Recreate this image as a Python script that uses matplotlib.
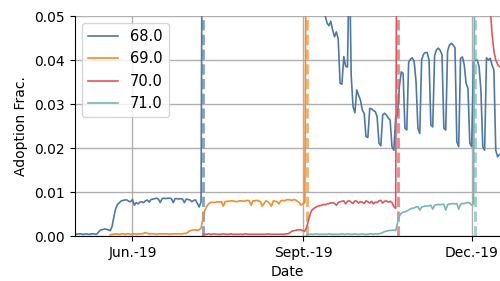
import numpy as np
import matplotlib
matplotlib.use('Agg')
import matplotlib.pyplot as plt
import pandas as pd

# daily adoption fraction, 2019-05-01 .. 2019-12-16 (values above 0.05 are off the chart)
start = '2019-05-01'
nan = np.nan

v68 = [0.0004, 0.0004, 0.0005, 0.0005, 0.0004, 0.0004, 0.0005, 0.0004, 0.0004, 0.0005,
       0.0005, 0.0004, 0.0005, 0.0011, 0.0014, 0.0015, 0.0016, 0.0015, 0.0014, 0.0012,
       0.0022, 0.0045, 0.0063, 0.0072, 0.0076, 0.0080, 0.0081, 0.0082, 0.0082, 0.0079,
       0.0078, 0.0083, 0.0070, 0.0076, 0.0073, 0.0077, 0.0078, 0.0076, 0.0080, 0.0082,
       0.0077, 0.0083, 0.0084, 0.0085, 0.0086, 0.0084, 0.0076, 0.0085, 0.0086, 0.0085,
       0.0086, 0.0086, 0.0085, 0.0076, 0.0085, 0.0085, 0.0084, 0.0085, 0.0084, 0.0076,
       0.0084, 0.0083, 0.0082, 0.0078, 0.0081, 0.0082, 0.0074, 0.0066, 0.0078,
       0.12, 0.25, 0.36, 0.45, 0.52, 0.57, 0.61, 0.64, 0.66, 0.68,
       0.70, 0.71, 0.72, 0.73, 0.74, 0.75, 0.76, 0.76, 0.77, 0.77,
       0.78, 0.78, 0.79, 0.79, 0.79, 0.80, 0.80, 0.80, 0.80, 0.81,
       0.81, 0.81, 0.81, 0.82, 0.82, 0.82, 0.82, 0.82, 0.83, 0.83,
       0.83, 0.83, 0.83, 0.83, 0.84, 0.84, 0.84, 0.84, 0.84, 0.84,
       0.84, 0.84, 0.84, 0.84, 0.84, 0.83,
       0.70, 0.50, 0.35, 0.24, 0.17, 0.13, 0.10, 0.08, 0.066, 0.056,
       0.0500, 0.0484, 0.0478, 0.0488, 0.0468, 0.0453, 0.0464, 0.0448, 0.0347, 0.0345,
       0.0408, 0.0386, 0.0384, 0.0650, 0.0365, 0.0294, 0.0280, 0.0332, 0.0320, 0.0309,
       0.0286, 0.0279, 0.0226, 0.0224, 0.0290, 0.0289, 0.0285, 0.0283, 0.0271, 0.0211,
       0.0205, 0.0275, 0.0279, 0.0275, 0.0268, 0.0264, 0.0203, 0.0195, 0.0270, 0.0275,
       0.0340, 0.0373, 0.0370, 0.0245, 0.0241, 0.0395, 0.0402, 0.0405, 0.0396, 0.0350,
       0.0245, 0.0233, 0.0400, 0.0413, 0.0417, 0.0417, 0.0400, 0.0252, 0.0248, 0.0410,
       0.0423, 0.0427, 0.0422, 0.0412, 0.0245, 0.0241, 0.0420, 0.0434, 0.0438, 0.0434,
       0.0428, 0.0214, 0.0203, 0.0404, 0.0407, 0.0389, 0.0347, 0.0336, 0.0211, 0.0203,
       0.0395, 0.0400, 0.0400, 0.0385, 0.0330, 0.0203, 0.0195, 0.0405, 0.0400, 0.0404,
       0.0389, 0.0377, 0.0195, 0.0180, 0.0185]

v69 = [nan] * 19 + [
       0.0003, 0.0004, 0.0004, 0.0005, 0.0004, 0.0004, 0.0005, 0.0005, 0.0004, 0.0005,
       0.0005, 0.0004, 0.0005, 0.0005, 0.0004, 0.0005, 0.0005, 0.0005, 0.0006, 0.0008,
       0.0006, 0.0005, 0.0005, 0.0005, 0.0005, 0.0004, 0.0005, 0.0005, 0.0005, 0.0005,
       0.0005, 0.0005, 0.0004, 0.0005, 0.0005, 0.0005, 0.0005, 0.0005, 0.0005, 0.0005,
       0.0006, 0.0006, 0.0009, 0.0012, 0.0013, 0.0014, 0.0014, 0.0013, 0.0014, 0.0018,
       0.0040, 0.0058, 0.0067, 0.0073, 0.0076, 0.0077, 0.0076, 0.0077, 0.0078, 0.0077,
       0.0078, 0.0068, 0.0078, 0.0079, 0.0079, 0.0080, 0.0080, 0.0079, 0.0078, 0.0079,
       0.0080, 0.0080, 0.0079, 0.0080, 0.0081, 0.0080, 0.0070, 0.0080, 0.0080, 0.0081,
       0.0080, 0.0078, 0.0068, 0.0074, 0.0080, 0.0078, 0.0074, 0.0068, 0.0080, 0.0079,
       0.0078, 0.0073, 0.0080, 0.0081, 0.0080, 0.0082, 0.0083, 0.0082, 0.0081, 0.0083,
       0.0082, 0.0079, 0.0076, 0.0070, 0.0074, 0.0076,
       0.10, 0.25, 0.38, 0.48, 0.55, 0.60, 0.64, 0.67, 0.70, 0.72,
       0.74, 0.75, 0.76, 0.77, 0.78, 0.78, 0.79, 0.79, 0.80, 0.80,
       0.80, 0.81, 0.81, 0.81, 0.81, 0.82, 0.82, 0.82, 0.82, 0.82,
       0.82, 0.83, 0.83, 0.83, 0.83, 0.83, 0.83, 0.83, 0.83, 0.83,
       0.83, 0.83, 0.83, 0.83, 0.83, 0.83, 0.83, 0.83, 0.82,
       0.70, 0.52, 0.38, 0.28, 0.22, 0.18, 0.15, 0.13, 0.12, 0.11,
       0.10, 0.10, 0.095, 0.09, 0.09, 0.085, 0.085, 0.08, 0.08, 0.08,
       0.078, 0.077, 0.076, 0.075, 0.074, 0.073, 0.072, 0.072, 0.071, 0.070,
       0.070, 0.069, 0.069, 0.068, 0.068, 0.067, 0.067, 0.066, 0.066, 0.066,
       0.065, 0.065, 0.064, 0.064, 0.063, 0.063, 0.062, 0.062, 0.062, 0.061,
       0.061, 0.061, 0.060, 0.060, 0.060, 0.059]

v70 = [nan] * 69 + [
       0.0003, 0.0004, 0.0004, 0.0005, 0.0004, 0.0004, 0.0005, 0.0004, 0.0004, 0.0004,
       0.0004, 0.0005, 0.0004, 0.0004, 0.0004, 0.0005, 0.0004, 0.0004, 0.0004, 0.0004,
       0.0004, 0.0004, 0.0004, 0.0005, 0.0004, 0.0004, 0.0004, 0.0004, 0.0004, 0.0004,
       0.0004, 0.0004, 0.0004, 0.0004, 0.0004, 0.0005, 0.0004, 0.0004, 0.0004, 0.0004,
       0.0004, 0.0004, 0.0004, 0.0004, 0.0004, 0.0005, 0.0005, 0.0008, 0.0011, 0.0012,
       0.0013, 0.0014, 0.0014, 0.0014, 0.0012, 0.0011,
       0.0020, 0.0036, 0.0052, 0.0060, 0.0063, 0.0066, 0.0068, 0.0069, 0.0070, 0.0072,
       0.0071, 0.0073, 0.0074, 0.0075, 0.0076, 0.0074, 0.0070, 0.0076, 0.0078, 0.0079,
       0.0080, 0.0073, 0.0079, 0.0080, 0.0077, 0.0074, 0.0080, 0.0079, 0.0075, 0.0078,
       0.0077, 0.0074, 0.0080, 0.0078, 0.0075, 0.0079, 0.0073, 0.0077, 0.0076, 0.0080,
       0.0081, 0.0075, 0.0079, 0.0080, 0.0077, 0.0079, 0.0076, 0.0067, 0.0063,
       0.12, 0.28, 0.40, 0.48, 0.54, 0.58, 0.62, 0.65, 0.67, 0.69,
       0.71, 0.72, 0.73, 0.74, 0.75, 0.76, 0.76, 0.77, 0.77, 0.78,
       0.78, 0.78, 0.79, 0.79, 0.79, 0.80, 0.80, 0.80, 0.80, 0.80,
       0.81, 0.81, 0.81, 0.81, 0.81, 0.81, 0.81, 0.81, 0.81, 0.81,
       0.81, 0.80, 0.70, 0.52, 0.36, 0.25, 0.17, 0.11, 0.08, 0.062,
       0.052, 0.046, 0.042, 0.040, 0.039, 0.0385]

v71 = [nan] * 125 + [
       0.0003, 0.0004, 0.0004, 0.0004, 0.0004, 0.0005, 0.0004, 0.0004, 0.0004, 0.0004,
       0.0004, 0.0004, 0.0005, 0.0004, 0.0004, 0.0004, 0.0004, 0.0004, 0.0004, 0.0005,
       0.0004, 0.0004, 0.0005, 0.0004, 0.0004, 0.0004, 0.0005, 0.0004, 0.0004, 0.0004,
       0.0005, 0.0004, 0.0004, 0.0004, 0.0005, 0.0005, 0.0004, 0.0005, 0.0005, 0.0005,
       0.0006, 0.0008, 0.0010, 0.0011, 0.0012, 0.0013, 0.0013, 0.0014, 0.0012,
       0.0030, 0.0045, 0.0052, 0.0054, 0.0055, 0.0057, 0.0059, 0.0062, 0.0063, 0.0064,
       0.0066, 0.0067, 0.0059, 0.0066, 0.0067, 0.0068, 0.0068, 0.0069, 0.0070, 0.0061,
       0.0070, 0.0071, 0.0072, 0.0071, 0.0072, 0.0072, 0.0059, 0.0071, 0.0073, 0.0073,
       0.0074, 0.0073, 0.0074, 0.0061, 0.0072, 0.0074, 0.0074, 0.0075, 0.0076, 0.0075,
       0.0070, 0.0073,
       0.10, 0.20, 0.30, 0.38, 0.44, 0.48, 0.52, 0.55, 0.58, 0.60,
       0.62, 0.63, 0.64, 0.65]

versions = ['68.0', '69.0', '70.0', '71.0']
releases = ['2019-07-09', '2019-09-03', '2019-10-22', '2019-12-03']
colors = ['#4e79a7', '#f28e2b', '#e15759', '#76b7b2']

tick_dates = ['2019-06-01', '2019-09-01', '2019-12-01']
tick_labels = ['Jun.-19', 'Sept.-19', 'Dec.-19']

dates = pd.date_range(start, periods=len(v68), freq='D')

fig = plt.figure(figsize=(5, 2.81), dpi=100)
ax = fig.add_axes([0.149, 0.160, 0.851, 0.783])

for vals, lab, c, rel in zip([v68, v69, v70, v71], versions, colors, releases):
    ax.plot(dates, vals, color=c, lw=1.2, label=lab)
    ax.axvline(pd.Timestamp(rel), color=c, ls='--', lw=2, alpha=0.7)

ax.set_ylim(0, 0.05)
ax.set_yticks([0, 0.01, 0.02, 0.03, 0.04, 0.05])
ax.set_xlim(pd.Timestamp('2019-04-30 17:00'), pd.Timestamp('2019-12-16 07:00'))
ax.set_xticks(pd.to_datetime(tick_dates))
ax.set_xticklabels(tick_labels)
ax.grid(True, color='#b0b0b0', lw=1)
ax.spines['top'].set_visible(False)
ax.spines['right'].set_visible(False)
ax.set_xlabel('Date')
ax.set_ylabel('Adoption Frac.')
ax.legend(loc='upper left', fontsize=10.5, handlelength=2.1)

fig.savefig('out.png', dpi=100)
